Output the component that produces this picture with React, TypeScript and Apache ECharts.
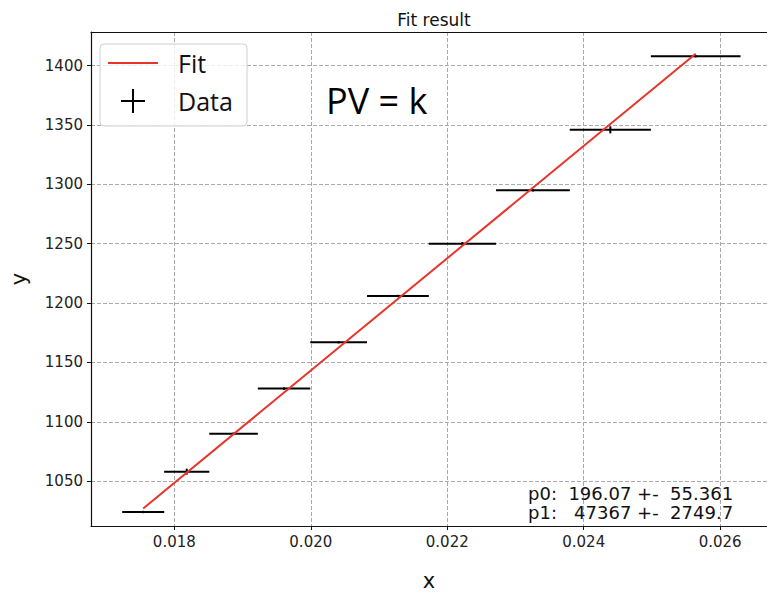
import React, { useEffect, useRef } from "react";
import * as echarts from "echarts";

// Data
const dataX = [0.017544, 0.018182, 0.018868, 0.019608, 0.020408, 0.021277, 0.022222, 0.023256, 0.02439, 0.025641];
const dataY = [1024, 1058, 1090, 1128, 1167, 1206, 1250, 1295, 1346, 1408];
const xErr = [0.000308, 0.000331, 0.000356, 0.000384, 0.000416, 0.000453, 0.000494, 0.000541, 0.000595, 0.000657];
const yErr = [1, 2.5, 1, 1, 1, 1, 1.5, 1, 3, 1];
const fitX = [0.017544, 0.025641];
const fitY = [1027, 1410];
const paramLines = ["p0:  196.07 +-  55.361", "p1:   47367 +-  2749.7"];

const FONT = "DejaVu Sans";
const X_MIN = 0.016779;
const X_MAX = 0.026686;

export default function App() {
  const ref = useRef<HTMLDivElement>(null);
  useEffect(() => {
    if (!ref.current) return;
    const chart = echarts.init(ref.current, null, { renderer: "svg" });
    const errData = dataX.map((x, i) => [x, dataY[i], xErr[i], yErr[i]]);
    const fitData = fitX.map((x, i) => [x, fitY[i]]);
    chart.setOption({
      animation: false,
      backgroundColor: "#fff",
      title: {
        text: "Fit result",
        left: 429,
        top: 6,
        textAlign: "center",
        textStyle: { fontFamily: FONT, fontSize: 17, fontWeight: "normal", color: "#111" },
      },
      grid: {
        left: 88,
        right: 0,
        top: 32,
        bottom: 65,
        show: false,
      },
      xAxis: [
        {
          type: "value",
          min: X_MIN,
          max: X_MAX,
          splitNumber: 5,
          name: "x",
          nameLocation: "middle",
          nameGap: 44,
          nameTextStyle: { fontFamily: FONT, fontSize: 21, color: "#111" },
          axisLine: { show: true, onZero: false, lineStyle: { color: "#111", width: 1.2 } },
          axisTick: { show: true, length: 4, lineStyle: { color: "#111" } },
          axisLabel: {
            fontFamily: FONT,
            fontSize: 15,
            color: "#222",
            margin: 8,
            showMinLabel: false,
            showMaxLabel: false,
            formatter: (v: number) => v.toFixed(3),
          },
          splitLine: {
            show: true,
            showMinLine: false,
            showMaxLine: false,
            lineStyle: { color: "#aaa", type: [4, 2], width: 1 },
          },
        },
        {
          type: "value",
          position: "top",
          min: X_MIN,
          max: X_MAX,
          axisLine: { show: true, onZero: false, lineStyle: { color: "#111", width: 1.2 } },
          axisTick: { show: false },
          axisLabel: { show: false },
          splitLine: { show: false },
        },
      ],
      yAxis: {
        type: "value",
        min: 1012.2,
        max: 1428.4,
        splitNumber: 8,
        name: "y",
        nameLocation: "middle",
        nameGap: 62,
        nameTextStyle: { fontFamily: FONT, fontSize: 21, color: "#111" },
        axisLine: { show: true, onZero: false, lineStyle: { color: "#111", width: 1.2 } },
        axisTick: { show: true, length: 4, lineStyle: { color: "#111" } },
        axisLabel: {
          fontFamily: FONT,
          fontSize: 15,
          color: "#222",
          margin: 8,
          showMinLabel: false,
          showMaxLabel: false,
          formatter: (v: number) => String(v),
        },
        splitLine: {
          show: true,
          showMinLine: false,
          showMaxLine: false,
          lineStyle: { color: "#aaa", type: [4, 2], width: 1 },
        },
      },
      series: [
        {
          type: "custom",
          name: "Data",
          data: errData,
          encode: { x: 0, y: 1 },
          z: 2,
          renderItem: (params: any, api: any) => {
            const x = api.value(0);
            const y = api.value(1);
            const xe = api.value(2);
            const ye = api.value(3);
            const l = api.coord([x - xe, y]);
            const r = api.coord([x + xe, y]);
            const b = api.coord([x, y - ye]);
            const t = api.coord([x, y + ye]);
            return {
              type: "group",
              children: [
                { type: "line", shape: { x1: l[0], y1: l[1], x2: r[0], y2: r[1] }, style: { stroke: "#000", lineWidth: 2 } },
                { type: "line", shape: { x1: b[0], y1: b[1], x2: t[0], y2: t[1] }, style: { stroke: "#000", lineWidth: 2 } },
              ],
            };
          },
        },
        {
          type: "line",
          name: "Fit",
          data: fitData,
          showSymbol: false,
          z: 3,
          lineStyle: { color: "#e8342a", width: 2 },
        },
      ],
      graphic: [
        {
          type: "rect",
          z: 10,
          shape: { x: 100, y: 44, width: 147, height: 82, r: 4 },
          style: { fill: "rgba(255,255,255,0.8)", stroke: "#d0d0d0", lineWidth: 1 },
        },
        {
          type: "line",
          z: 11,
          shape: { x1: 108, y1: 63, x2: 158, y2: 63 },
          style: { stroke: "#e8342a", lineWidth: 2 },
        },
        {
          type: "line",
          z: 11,
          shape: { x1: 121, y1: 101, x2: 145, y2: 101 },
          style: { stroke: "#000", lineWidth: 2 },
        },
        {
          type: "line",
          z: 11,
          shape: { x1: 133, y1: 89, x2: 133, y2: 113 },
          style: { stroke: "#000", lineWidth: 2 },
        },
        {
          type: "text",
          z: 11,
          x: 178,
          y: 63,
          style: { text: "Fit", fontFamily: "Open Sans", fontSize: 25, fill: "#111", textVerticalAlign: "middle" },
        },
        {
          type: "text",
          z: 11,
          x: 178,
          y: 101,
          style: { text: "Data", fontFamily: "Open Sans", fontSize: 25, fill: "#111", textVerticalAlign: "middle" },
        },
        {
          type: "text",
          z: 11,
          x: 326,
          y: 100,
          style: { text: "PV = k", fontFamily: "Open Sans", fontSize: 36, fill: "#000", textVerticalAlign: "middle" },
        },
        {
          type: "text",
          z: 11,
          x: 528,
          y: 493,
          style: { text: paramLines[0], fontFamily: FONT, fontSize: 18, fill: "#111", textVerticalAlign: "middle" },
        },
        {
          type: "text",
          z: 11,
          x: 528,
          y: 512,
          style: { text: paramLines[1], fontFamily: FONT, fontSize: 18, fill: "#111", textVerticalAlign: "middle" },
        },
      ],
    });
    return () => chart.dispose();
  }, []);
  return <div ref={ref} style={{ width: 767, height: 596, position: "absolute", left: 0, top: 0 }} />;
}
